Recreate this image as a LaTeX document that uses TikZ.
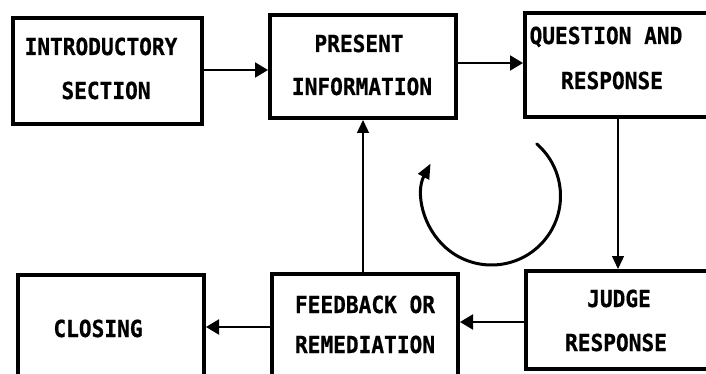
\documentclass[tikz,border=0pt]{standalone}
\usepackage{fontspec}
\newfontfamily\dotfont{DejaVu Sans Mono Bold}[FakeStretch=0.9,FakeBold=0.6]
\usetikzlibrary{arrows.meta}

\tikzset{
  stage/.style={draw, line width=4pt, rectangle, inner sep=0pt},
  caption/.style={anchor=base, inner sep=0pt,
    font=\fontsize{23.5}{23.5}\selectfont\dotfont},
  flow/.style={line width=2pt, -{Triangle[length=13pt,width=15pt]}},
  thinflow/.style={line width=1.3pt, -{Triangle[length=13pt,width=12pt]}},
  cycle/.style={line width=3pt, line cap=round, -{Triangle[length=15pt,width=12pt]}}
}

\begin{document}
\begin{tikzpicture}[x=1pt,y=-1pt]
  \useasboundingbox (0,0) rectangle (706,374);
  \clip (0,0) rectangle (706,374);
  \fill[white] (0,0) rectangle (706,374);

  % stage boxes
  \node[stage, minimum width=189pt, minimum height=106pt] (intro) at (107.5,71) {};
  \node[stage, minimum width=186pt, minimum height=103pt] (info)  at (363,66.5) {};
  \node[stage, minimum width=205pt, minimum height=104pt] (quest) at (627.5,65) {};
  \node[stage, minimum width=204pt, minimum height=98pt]  (judge) at (628,320) {};
  \node[stage, minimum width=186pt, minimum height=106pt] (feed)  at (365,327) {};
  \node[stage, minimum width=186pt, minimum height=115pt] (close) at (111,332.5) {};

  % box texts
  \node[caption] (introA) at (101,55)  {INTRODUCTORY};
  \node[caption] (introB) at (106,99)  {SECTION};
  \node[caption] (infoA)  at (359,52)  {PRESENT};
  \node[caption] (infoB)  at (362,95)  {INFORMATION};
  \node[caption] (questA) at (606,44)  {QUESTION AND};
  \node[caption] (questB) at (612,89)  {RESPONSE};
  \node[caption] (judgeA) at (619,307) {JUDGE};
  \node[caption] (judgeB) at (616,351) {RESPONSE};
  \node[caption] (feedA)  at (365,313) {FEEDBACK OR};
  \node[caption] (feedB)  at (365,353) {REMEDIATION};
  \node[caption] (closeA) at (98,337)  {CLOSING};

  % connectors
  \draw[flow] ([yshift=1pt]intro.east) -- ([yshift=1pt]intro.east -| info.west);
  \draw[flow] ([yshift=3.5pt]info.east) -- ([yshift=3.5pt]info.east -| quest.west);
  \draw[thinflow] ([xshift=-9.5pt]quest.south) -- ([xshift=-9.5pt]quest.south |- judge.north);
  \draw[flow] ([yshift=-2pt]judge.west) -- ([yshift=-2pt]judge.west -| feed.east);
  \draw[flow] (feed.west) -- (feed.west -| close.east);
  \draw[thinflow] ([xshift=-2pt]feed.north) -- ([xshift=-2pt]feed.north |- info.south);

  % loop arrow
  \coordinate (loopc) at (491.5,196);
  \draw[cycle] (loopc) ++(-49:69) arc[start angle=-49, end angle=208, radius=69];
\end{tikzpicture}
\end{document}
